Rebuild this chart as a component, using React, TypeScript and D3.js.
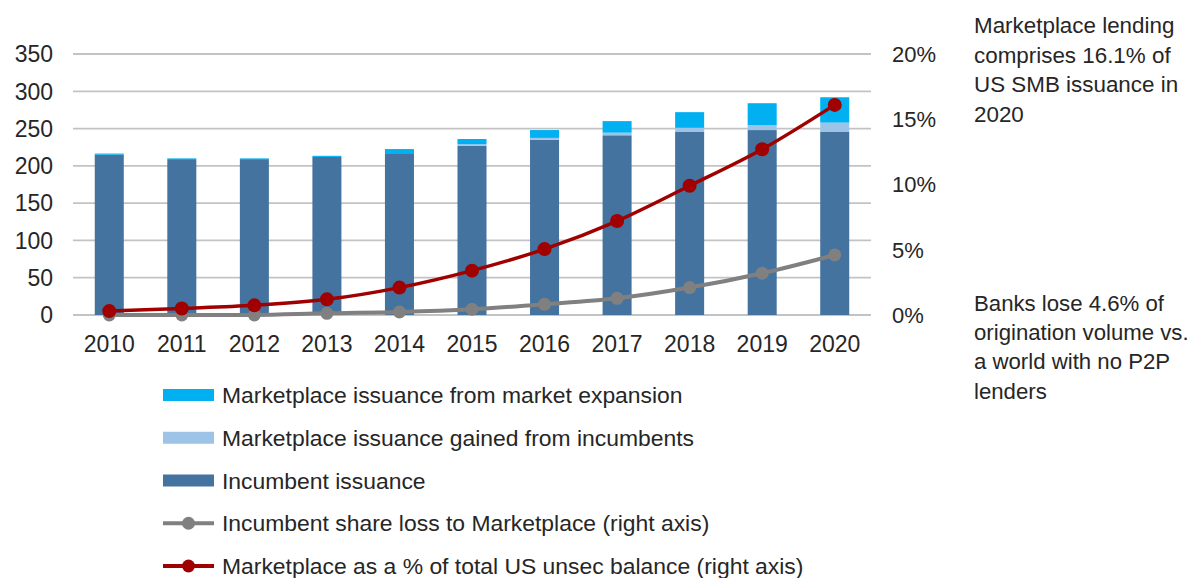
import React from "react";
import * as d3 from "d3";

const years = ["2010","2011","2012","2013","2014","2015","2016","2017","2018","2019","2020"];
const incumbent = [215, 209, 209, 212, 217, 227, 235, 241, 246, 248, 246];
const gained = [0, 0, 0, 0, 0, 2, 2.5, 3.5, 5, 6.5, 12];
const expansion = [1.5, 1, 1, 1.5, 5.5, 7, 10.5, 15.5, 21, 29.5, 34];
const shareLoss = [0, 0, 0, 0.13, 0.23, 0.44, 0.82, 1.28, 2.1, 3.2, 4.6];
const marketPct = [0.3, 0.5, 0.74, 1.2, 2.1, 3.4, 5.05, 7.2, 9.9, 12.7, 16.1];
const leftTicks = [0, 50, 100, 150, 200, 250, 300, 350];
const rightTicks = [0, 5, 10, 15, 20];
const legendItems = [
  { label: "Marketplace issuance from market expansion", kind: "rect", color: "#00B0F0" },
  { label: "Marketplace issuance gained from incumbents", kind: "rect", color: "#9DC3E6" },
  { label: "Incumbent issuance", kind: "rect", color: "#44739F" },
  { label: "Incumbent share loss to Marketplace (right axis)", kind: "line", color: "#808080" },
  { label: "Marketplace as a % of total US unsec balance (right axis)", kind: "line", color: "#A00000" },
];
const note1 = ["Marketplace lending", "comprises 16.1% of", "US SMB issuance in", "2020"];
const note2 = ["Banks lose 4.6% of", "origination volume vs.", "a world with no P2P", "lenders"];

const FONT = "'Liberation Sans', Arial, sans-serif";

export default function App() {
  const x = d3.scaleBand<string>().domain(years).range([73, 871]).paddingInner(0.6).paddingOuter(0.3);
  const y = d3.scaleLinear().domain([0, 350]).range([315, 54]);
  const y2 = d3.scaleLinear().domain([0, 20]).range([315, 54]);
  const cx = (d: string) => (x(d) as number) + x.bandwidth() / 2;

  const line = d3.line<number>()
    .x((_, i) => cx(years[i]))
    .y((v) => y2(v))
    .curve(d3.curveCatmullRom.alpha(0.5));

  const colors = { inc: "#44739F", gain: "#9DC3E6", exp: "#00B0F0", gray: "#808080", red: "#A00000" };

  return (
    <svg width={1195} height={578} style={{ position: "absolute", left: 0, top: 0, background: "#fff" }}>
      {leftTicks.map((t) => (
        <g key={t}>
          <line x1={73} x2={871} y1={y(t)} y2={y(t)} stroke="#C3C3C3" strokeWidth={1.8} />
          <text x={53} y={y(t)} dy="0.36em" textAnchor="end" fontFamily={FONT} fontSize={23} fill="#262626">{t}</text>
        </g>
      ))}
      {rightTicks.map((t) => (
        <text key={t} x={892} y={y2(t)} dy="0.36em" fontFamily={FONT} fontSize={22} fill="#262626">{t}%</text>
      ))}
      {years.map((yr, i) => {
        const bx = x(yr) as number;
        const w = x.bandwidth();
        const a = incumbent[i], b = gained[i], c = expansion[i];
        return (
          <g key={yr}>
            <rect x={bx} width={w} y={y(a)} height={y(0) - y(a)} fill={colors.inc} />
            {b > 0 && <rect x={bx} width={w} y={y(a + b)} height={y(a) - y(a + b)} fill={colors.gain} />}
            <rect x={bx} width={w} y={y(a + b + c)} height={y(a + b) - y(a + b + c)} fill={colors.exp} />
            <text x={cx(yr)} y={344} dy="0.36em" textAnchor="middle" fontFamily={FONT} fontSize={23} fill="#262626">{yr}</text>
          </g>
        );
      })}
      <path d={line(shareLoss) || ""} fill="none" stroke={colors.gray} strokeWidth={4} />
      {shareLoss.map((v, i) => (
        <circle key={i} cx={cx(years[i])} cy={y2(v)} r={6.5} fill={colors.gray} />
      ))}
      <path d={line(marketPct) || ""} fill="none" stroke={colors.red} strokeWidth={3.5} />
      {marketPct.map((v, i) => (
        <circle key={i} cx={cx(years[i])} cy={y2(v)} r={7} fill={colors.red} />
      ))}
      {legendItems.map((it, i) => {
        const ly = 395 + i * 42.75;
        return (
          <g key={it.label}>
            {it.kind === "rect" ? (
              <rect x={163} y={ly - 6} width={51} height={12} fill={it.color} />
            ) : (
              <g>
                <line x1={163} x2={214} y1={ly} y2={ly} stroke={it.color} strokeWidth={4} />
                <circle cx={188.5} cy={ly} r={6.5} fill={it.color} />
              </g>
            )}
            <text x={222} y={ly} dy="0.36em" fontFamily={FONT} fontSize={22.9} fill="#262626">{it.label}</text>
          </g>
        );
      })}
      {note1.map((t, i) => (
        <text key={t} x={974} y={25 + i * 29.7} dy="0.36em" fontFamily={FONT} fontSize={22.4} fill="#262626">{t}</text>
      ))}
      {note2.map((t, i) => (
        <text key={t} x={974} y={303 + i * 29.2} dy="0.36em" fontFamily={FONT} fontSize={22.2} fill="#262626">{t}</text>
      ))}
    </svg>
  );
}
